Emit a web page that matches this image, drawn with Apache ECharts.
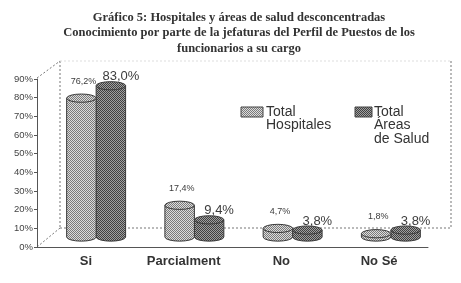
<!DOCTYPE html>
<html>
<head>
<meta charset="utf-8">
<script src="https://cdn.jsdelivr.net/npm/echarts@6/dist/echarts.min.js"></script>
<style>
  html, body { margin: 0; padding: 0; background: #fff; }
  #chart { width: 461px; height: 283px; }
</style>
</head>
<body>
<div id="chart"></div>
<script>
var categories = ['Si', 'Parcialment', 'No', 'No Sé']
var hospitales = [76.2, 17.4, 4.7, 1.8]
var areasSalud = [83.0, 9.4, 3.8, 3.8]
var seriesNames = ['Total\nHospitales', 'Total\nÁreas\nde Salud']

// trama de puntos como en la impresion original
function makePattern(light, dark) {
  var c = document.createElement('canvas')
  c.width = 2
  c.height = 2
  var ctx = c.getContext('2d')
  ctx.fillStyle = light
  ctx.fillRect(0, 0, 2, 2)
  ctx.fillStyle = dark
  ctx.fillRect(0, 0, 1, 1)
  ctx.fillRect(1, 1, 1, 1)
  return { image: c, repeat: 'repeat' }
}
var patHosp = makePattern('#dcdcdc', '#7a7a7a')
var patArea = makePattern('#a0a0a0', '#404040')

function fmt(v) {
  return v.toFixed(1).replace('.', ',') + '%'
}

function cylinder(offset, fill, labelFont, labelDx, labelDy) {
  return function (params, api) {
    var idx = api.value(0)
    var val = api.value(1)
    var top = api.coord([idx, val])
    var base = api.coord([idx, 0])
    var band = api.size([1, 0])[0]
    var w = band * 0.3
    var cx = top[0] + offset * band
    var rx = w / 2
    var ry = w * 0.14
    var x0 = cx - rx
    var x1 = cx + rx
    var body = 'M' + x0 + ' ' + top[1] + ' L' + x0 + ' ' + base[1] +
      ' A' + rx + ' ' + ry + ' 0 0 0 ' + x1 + ' ' + base[1] +
      ' L' + x1 + ' ' + top[1] + ' Z'
    var cap = 'M' + x0 + ' ' + top[1] +
      ' A' + rx + ' ' + ry + ' 0 1 0 ' + x1 + ' ' + top[1] +
      ' A' + rx + ' ' + ry + ' 0 1 0 ' + x0 + ' ' + top[1] + ' Z'
    var st = { fill: fill, stroke: '#3a3a3a', lineWidth: 1 }
    return {
      type: 'group',
      children: [
        { type: 'path', shape: { pathData: body }, style: st },
        { type: 'path', shape: { pathData: cap }, style: st },
        {
          type: 'text',
          style: {
            text: fmt(val),
            x: cx + labelDx,
            y: top[1] + labelDy,
            font: labelFont,
            fill: '#3c3c3c',
            align: 'center',
            verticalAlign: 'middle'
          }
        }
      ]
    }
  }
}

var chart = echarts.init(document.getElementById('chart'))

var wall = { stroke: '#777', lineWidth: 1, lineDash: [2, 2] }
var legendText = { font: '14px Liberation Sans', lineHeight: 13.5, fill: '#333' }

chart.setOption({
  animation: false,
  title: {
    text: 'Gráfico 5: Hospitales y áreas de salud desconcentradas\nConocimiento por parte de la jefaturas del Perfil de Puestos de los\nfuncionarios a su cargo',
    left: 234,
    top: 5,
    textAlign: 'center',
    textStyle: {
      fontFamily: 'Liberation Serif',
      fontWeight: 'bold',
      fontSize: 12.5,
      lineHeight: 15.5,
      color: '#333'
    }
  },
  graphic: [
    { type: 'line', shape: { x1: 60, y1: 61, x2: 60, y2: 228 }, style: wall },
    { type: 'line', shape: { x1: 60, y1: 228, x2: 451, y2: 228 }, style: wall },
    { type: 'line', shape: { x1: 451, y1: 61, x2: 451, y2: 228 }, style: wall },
    { type: 'line', shape: { x1: 60, y1: 61, x2: 451, y2: 61 }, style: { stroke: '#ddd', lineWidth: 1, lineDash: [2, 2] } },
    { type: 'line', shape: { x1: 37, y1: 78, x2: 60, y2: 61 }, style: wall },
    { type: 'line', shape: { x1: 37, y1: 247, x2: 60, y2: 228 }, style: wall },
    // leyenda
    { type: 'rect', shape: { x: 241, y: 107, width: 22, height: 10 }, style: { fill: patHosp, stroke: '#444' } },
    { type: 'text', x: 266, y: 105, style: Object.assign({ text: seriesNames[0] }, legendText) },
    { type: 'rect', shape: { x: 355, y: 107, width: 17, height: 10 }, style: { fill: patArea, stroke: '#444' } },
    { type: 'text', x: 374, y: 105, style: Object.assign({ text: seriesNames[1] }, legendText) }
  ],
  grid: [
    { left: 37, right: 33, top: 79, bottom: 36 },
    { left: 47, right: 21, top: 73, bottom: 46 }
  ],
  xAxis: [
    {
      gridIndex: 0,
      type: 'category',
      data: categories,
      axisLine: { lineStyle: { color: '#555' } },
      axisTick: { length: 3, lineStyle: { color: '#555' } },
      axisLabel: {
        margin: 8,
        fontFamily: 'Liberation Sans',
        fontWeight: 'bold',
        fontSize: 13,
        color: '#333'
      }
    },
    { gridIndex: 1, type: 'category', data: categories, show: false }
  ],
  yAxis: [
    {
      gridIndex: 0,
      type: 'value',
      min: 0,
      max: 90,
      interval: 10,
      splitLine: { show: false },
      axisLine: { show: true, lineStyle: { color: '#555' } },
      axisTick: { show: true, length: 3, lineStyle: { color: '#555' } },
      axisLabel: {
        formatter: '{value}%',
        margin: 4,
        fontFamily: 'Liberation Sans',
        fontSize: 9.5,
        color: '#444'
      }
    },
    { gridIndex: 1, type: 'value', min: 0, max: 90, show: false }
  ],
  series: [
    {
      name: seriesNames[1],
      type: 'custom',
      xAxisIndex: 1,
      yAxisIndex: 1,
      z: 2,
      renderItem: cylinder(0.15, patArea, '13px Liberation Sans', 10, -9),
      data: areasSalud.map(function (v, i) { return [i, v] })
    },
    {
      name: seriesNames[0],
      type: 'custom',
      xAxisIndex: 1,
      yAxisIndex: 1,
      z: 3,
      renderItem: cylinder(-0.15, patHosp, '9px Liberation Sans', 2, -17),
      data: hospitales.map(function (v, i) { return [i, v] })
    }
  ]
})
</script>
</body>
</html>
